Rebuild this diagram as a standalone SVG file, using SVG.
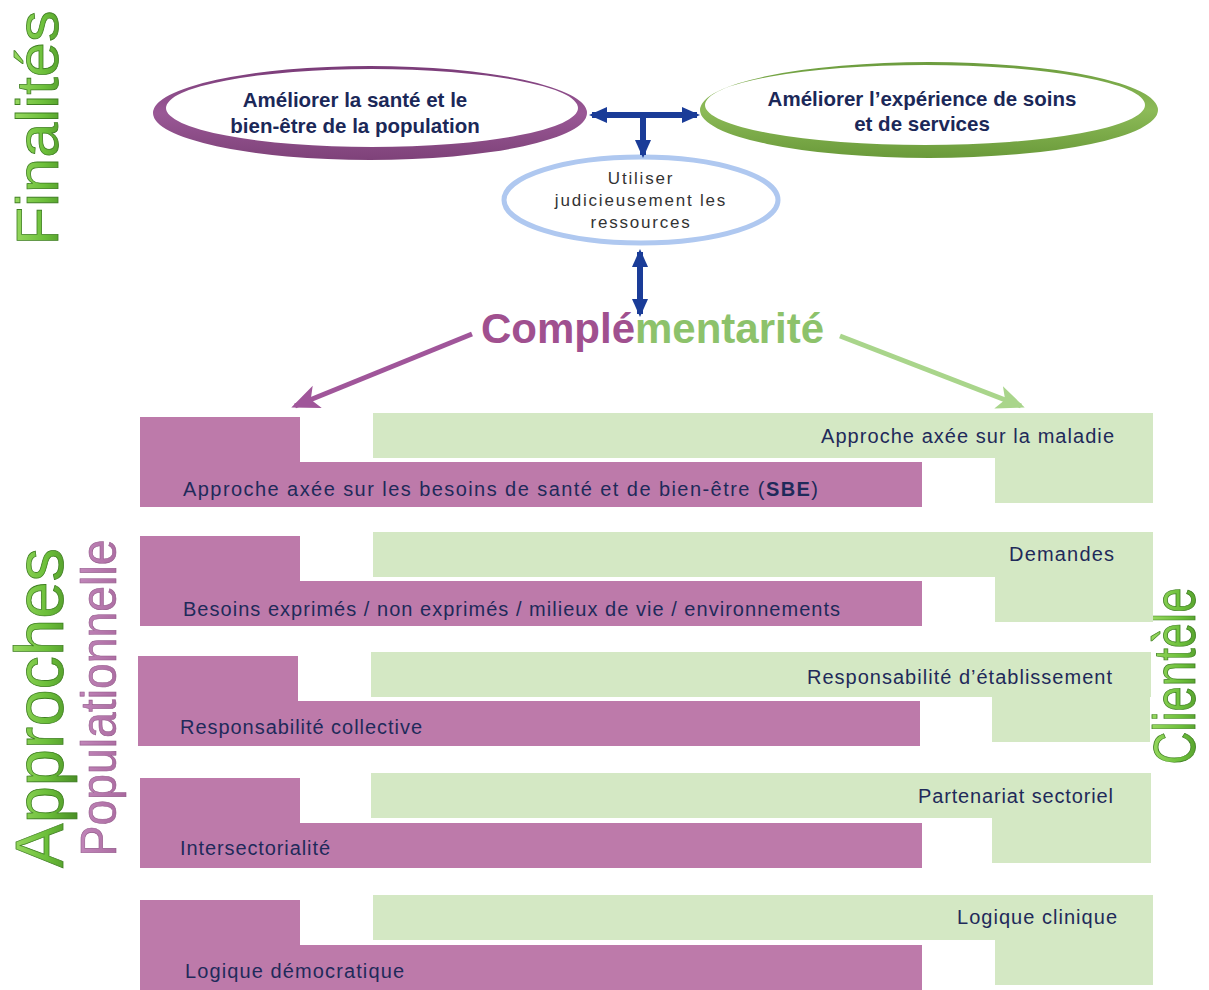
<svg xmlns="http://www.w3.org/2000/svg" width="1209" height="990" viewBox="0 0 1209 990">
<defs>
<style>
.pu{fill:#BD7AAA}
.gr{fill:#D4E8C4}
.bt{font-family:"Liberation Sans",Arial,sans-serif;font-size:20px;fill:#1F2A5A}
.et{font-family:"Liberation Sans",Arial,sans-serif;font-size:20.5px;font-weight:bold;fill:#1B2858;text-anchor:middle}
.st{font-family:"Liberation Sans",Arial,sans-serif;font-size:17px;fill:#333;text-anchor:middle;letter-spacing:1.8px}
.side{font-family:"Liberation Sans",Arial,sans-serif;text-anchor:middle}
.blue{stroke:#1A3C98;stroke-width:6;fill:none}
</style>
<linearGradient id="gg" x1="0" y1="0" x2="0" y2="1">
<stop offset="0" stop-color="#A6E06C"/><stop offset="0.6" stop-color="#6CBF3A"/><stop offset="1" stop-color="#4A8F26"/>
</linearGradient>
<linearGradient id="pg" x1="0" y1="0" x2="0" y2="1">
<stop offset="0" stop-color="#C58BBE"/><stop offset="1" stop-color="#A8679D"/>
</linearGradient>
<linearGradient id="ringP" x1="0" y1="0" x2="0" y2="1">
<stop offset="0" stop-color="#7A3C78"/><stop offset="0.5" stop-color="#9A5896"/><stop offset="1" stop-color="#7E4279"/>
</linearGradient>
<linearGradient id="ringG" x1="0" y1="0" x2="0" y2="1">
<stop offset="0" stop-color="#6C9C3E"/><stop offset="0.5" stop-color="#8DBB58"/><stop offset="1" stop-color="#6A9A3A"/>
</linearGradient>
<marker id="ab" markerUnits="userSpaceOnUse" markerWidth="18" markerHeight="18" refX="15" refY="9" orient="auto-start-reverse" viewBox="0 0 18 18">
<path d="M0,1 L18,9 L0,17 z" fill="#1A3C98"/>
</marker>
<marker id="ap" markerUnits="userSpaceOnUse" markerWidth="28" markerHeight="28" refX="24" refY="14" orient="auto" viewBox="0 0 28 28">
<path d="M0,2 L28,14 L0,26 L7,14 z" fill="#A0569A"/>
</marker>
<marker id="ag" markerUnits="userSpaceOnUse" markerWidth="28" markerHeight="28" refX="24" refY="14" orient="auto" viewBox="0 0 28 28">
<path d="M0,2 L28,14 L0,26 L7,14 z" fill="#A9D58B"/>
</marker>
</defs>
<rect width="1209" height="990" fill="#fff"/>

<!-- side labels -->
<g id="label-finalites"><text class="side" transform="translate(58,128) rotate(-90)" font-size="60" textLength="235" lengthAdjust="spacingAndGlyphs" fill="url(#gg)" stroke="#3F7F22" stroke-width="0.8">Finalités</text></g>
<g id="label-approches"><text class="side" transform="translate(63,708) rotate(-90)" font-size="68" textLength="320" lengthAdjust="spacingAndGlyphs" fill="url(#gg)" stroke="#3F7F22" stroke-width="0.8">Approches</text></g>
<g id="label-populationnelle"><text class="side" transform="translate(116,698) rotate(-90)" font-size="50" textLength="317" lengthAdjust="spacingAndGlyphs" fill="url(#pg)" stroke="#935A8A" stroke-width="0.6">Populationnelle</text></g>
<g id="label-clientele"><text class="side" transform="translate(1195,676) rotate(-90)" font-size="60" textLength="177" lengthAdjust="spacingAndGlyphs" fill="url(#gg)" stroke="#3F7F22" stroke-width="0.8">Clientèle</text></g>

<!-- top ellipses -->
<g id="node-sante">
<path fill="url(#ringP)" fill-rule="evenodd" d="M153,113 a217,47 0 1,0 434,0 a217,47 0 1,0 -434,0 z M166,108 a206,39 0 1,0 412,0 a206,39 0 1,0 -412,0 z"/>
<text class="et" x="355" y="107">Améliorer la santé et le</text>
<text class="et" x="355" y="133">bien-être de la population</text>
</g>
<g id="node-experience">
<path fill="url(#ringG)" fill-rule="evenodd" d="M700,110 a229,48 0 1,0 458,0 a229,48 0 1,0 -458,0 z M705,105 a220,40 0 1,0 440,0 a220,40 0 1,0 -440,0 z"/>
<text class="et" x="922" y="106">Améliorer l’expérience de soins</text>
<text class="et" x="922" y="131">et de services</text>
</g>
<g id="node-ressources">
<ellipse cx="641" cy="200" rx="137" ry="43" fill="none" stroke="#AFC8F0" stroke-width="5"/>
<text class="st" x="641" y="184">Utiliser</text>
<text class="st" x="641" y="206">judicieusement les</text>
<text class="st" x="641" y="228">ressources</text>
</g>
<g id="node-complementarite">
<text x="481" y="343" font-family="'Liberation Sans',Arial,sans-serif" font-size="42" font-weight="bold"><tspan fill="#A0508F">Complé</tspan><tspan fill="#8DC26B">mentarité</tspan></text>
</g>

<!-- connectors -->
<g id="connectors">
<line class="blue" x1="592" y1="115" x2="697" y2="115" marker-start="url(#ab)" marker-end="url(#ab)"/>
<line class="blue" x1="643" y1="115" x2="643" y2="155" marker-end="url(#ab)"/>
<line class="blue" x1="640" y1="252" x2="640" y2="314" marker-start="url(#ab)" marker-end="url(#ab)"/>
<line x1="472" y1="334" x2="295" y2="406" stroke="#A0569A" stroke-width="5" marker-end="url(#ap)"/>
<line x1="840" y1="336" x2="1021" y2="406" stroke="#A9D58B" stroke-width="5" marker-end="url(#ag)"/>
</g>

<!-- rows -->
<g id="row1">
<rect class="gr" x="373" y="413" width="780" height="45"/>
<rect class="gr" x="995" y="413" width="158" height="90"/>
<rect class="pu" x="140" y="417" width="160" height="90"/>
<rect class="pu" x="140" y="462" width="782" height="45"/>
<text class="bt" x="1114" y="443" text-anchor="end" textLength="293">Approche axée sur la maladie</text>
<text class="bt" x="183" y="496" textLength="635">Approche axée sur les besoins de santé et de bien-être (<tspan font-weight="bold">SBE</tspan>)</text>
</g>
<g id="row2">
<rect class="gr" x="373" y="532" width="780" height="45"/>
<rect class="gr" x="995" y="532" width="158" height="90"/>
<rect class="pu" x="140" y="536" width="160" height="90"/>
<rect class="pu" x="140" y="581" width="782" height="45"/>
<text class="bt" x="1114" y="561" text-anchor="end" textLength="105">Demandes</text>
<text class="bt" x="183" y="616" textLength="657">Besoins exprimés / non exprimés / milieux de vie / environnements</text>
</g>
<g id="row3">
<rect class="gr" x="371" y="652" width="780" height="45"/>
<rect class="gr" x="992" y="652" width="158" height="90"/>
<rect class="pu" x="138" y="656" width="160" height="90"/>
<rect class="pu" x="138" y="701" width="782" height="45"/>
<text class="bt" x="1112" y="684" text-anchor="end" textLength="305">Responsabilité d’établissement</text>
<text class="bt" x="180" y="734" textLength="242">Responsabilité collective</text>
</g>
<g id="row4">
<rect class="gr" x="371" y="773" width="780" height="45"/>
<rect class="gr" x="992" y="773" width="159" height="90"/>
<rect class="pu" x="140" y="778" width="160" height="90"/>
<rect class="pu" x="140" y="823" width="782" height="45"/>
<text class="bt" x="1113" y="803" text-anchor="end" textLength="195">Partenariat sectoriel</text>
<text class="bt" x="180" y="855" textLength="150">Intersectorialité</text>
</g>
<g id="row5">
<rect class="gr" x="373" y="895" width="780" height="45"/>
<rect class="gr" x="995" y="895" width="158" height="90"/>
<rect class="pu" x="140" y="900" width="160" height="90"/>
<rect class="pu" x="140" y="945" width="782" height="45"/>
<text class="bt" x="1117" y="924" text-anchor="end" textLength="160">Logique clinique</text>
<text class="bt" x="185" y="978" textLength="219">Logique démocratique</text>
</g>
</svg>
